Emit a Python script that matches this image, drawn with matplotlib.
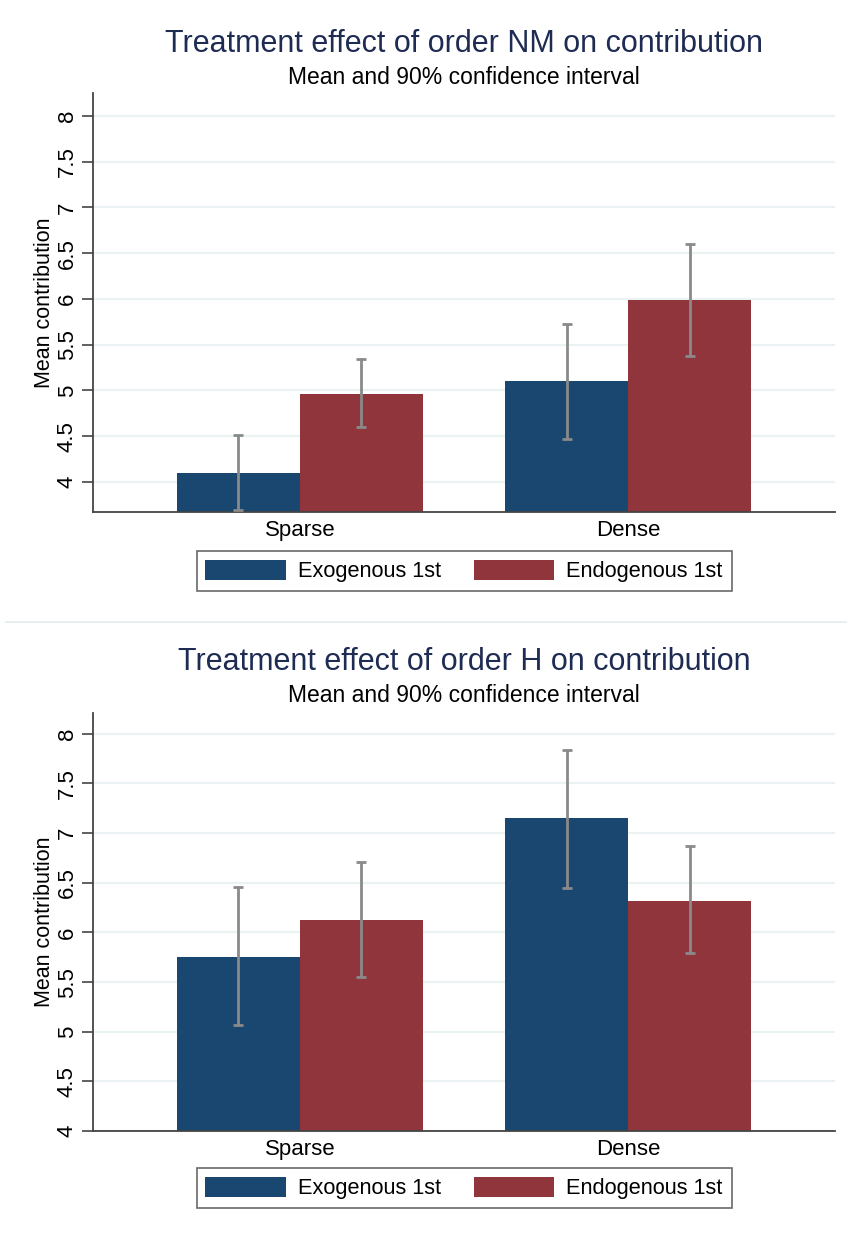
import matplotlib
matplotlib.use("Agg")
import matplotlib.pyplot as plt
from matplotlib.patches import Patch
import numpy as np

plt.rcParams['font.family'] = ['Liberation Sans', 'DejaVu Sans']

categories = ["Sparse", "Dense"]
series_names = ["Exogenous 1st", "Endogenous 1st"]

# Panel 1: order NM
nm_exo_mean = [4.10, 5.10]
nm_exo_lo = [3.69, 4.47]
nm_exo_hi = [4.51, 5.72]
nm_endo_mean = [4.96, 5.99]
nm_endo_lo = [4.60, 5.38]
nm_endo_hi = [5.34, 6.60]

# Panel 2: order H
h_exo_mean = [5.75, 7.15]
h_exo_lo = [5.07, 6.45]
h_exo_hi = [6.46, 7.84]
h_endo_mean = [6.13, 6.32]
h_endo_lo = [5.55, 5.79]
h_endo_hi = [6.71, 6.87]

yticks = [4, 4.5, 5, 5.5, 6, 6.5, 7, 7.5, 8]
ytick_labels = ["4", "4.5", "5", "5.5", "6", "6.5", "7", "7.5", "8"]

NAVY = "#1a476f"
MAROON = "#90353b"
GRID = "#eaf2f3"
ERR = "#8a8a8a"
TITLE_C = "#1e2b52"

fig = plt.figure(figsize=(8.47, 12.35), dpi=100)
W, H = 847, 1235

def ax_rect(l, r, t, b):
    return [l / W, 1 - b / H, (r - l) / W, (b - t) / H]

def draw_panel(ax, exo, exo_lo, exo_hi, endo, endo_lo, endo_hi, ylim):
    x = np.arange(len(categories))
    w = 0.375
    for vals, lo, hi, off, col in [(exo, exo_lo, exo_hi, -w / 2, NAVY),
                                   (endo, endo_lo, endo_hi, w / 2, MAROON)]:
        ax.bar(x + off, vals, width=w, color=col, bottom=0, zorder=2, linewidth=0)
        vals = np.array(vals); lo = np.array(lo); hi = np.array(hi)
        ax.errorbar(x + off, vals, yerr=[vals - lo, hi - vals], fmt='none',
                    ecolor=ERR, elinewidth=2, capsize=3.8, capthick=2, zorder=3)
    ax.set_xlim(-0.631, 1.631)
    ax.set_ylim(*ylim)
    ax.set_yticks(yticks)
    ax.set_yticklabels(ytick_labels, rotation=90, va='center', fontsize=16)
    ax.set_xticks(x)
    ax.set_xticklabels(categories, fontsize=16)
    ax.tick_params(axis='x', length=0, pad=6)
    ax.tick_params(axis='y', length=8, width=1.2, color="#444444", pad=3)
    ax.yaxis.grid(True, color=GRID, linewidth=1.6, zorder=0)
    ax.set_axisbelow(True)
    for s in ['top', 'right']:
        ax.spines[s].set_visible(False)
    for s in ['left', 'bottom']:
        ax.spines[s].set_color("#444444")
        ax.spines[s].set_linewidth(1.3)
    ax.set_ylabel("Mean contribution", fontsize=15.5, labelpad=1)

def legend_for(cy):
    handles = [Patch(facecolor=NAVY, edgecolor='none'), Patch(facecolor=MAROON, edgecolor='none')]
    leg = fig.legend(handles, series_names, loc='center', bbox_to_anchor=(464 / W, 1 - cy / H),
                     ncol=2, fontsize=15.7, frameon=True, fancybox=False,
                     handlelength=3.7, handleheight=1.05, handletextpad=0.55,
                     columnspacing=1.5, borderpad=0.4, borderaxespad=0)
    leg.get_frame().set_edgecolor("#444444")
    leg.get_frame().set_linewidth(1.2)

ax1 = fig.add_axes(ax_rect(93, 835, 93, 512))
draw_panel(ax1, nm_exo_mean, nm_exo_lo, nm_exo_hi, nm_endo_mean, nm_endo_lo, nm_endo_hi, (3.67, 8.25))
ax2 = fig.add_axes(ax_rect(93, 835, 713, 1131))
draw_panel(ax2, h_exo_mean, h_exo_lo, h_exo_hi, h_endo_mean, h_endo_lo, h_endo_hi, (4.0, 8.21))

fig.text(464 / W, 1 - 44 / H, "Treatment effect of order NM on contribution", ha='center', va='center',
         fontsize=22, color=TITLE_C)
fig.text(464 / W, 1 - 77 / H, "Mean and 90% confidence interval", ha='center', va='center',
         fontsize=16.5, color='black')
fig.text(464 / W, 1 - 662 / H, "Treatment effect of order H on contribution", ha='center', va='center',
         fontsize=22, color=TITLE_C)
fig.text(464 / W, 1 - 695 / H, "Mean and 90% confidence interval", ha='center', va='center',
         fontsize=16.5, color='black')

legend_for(571)
legend_for(1188)

fig.add_artist(plt.Line2D([6 / W, 1], [1 - 622 / H, 1 - 622 / H], color="#e3ecee", linewidth=1.2))

fig.savefig("out.png", dpi=100)
